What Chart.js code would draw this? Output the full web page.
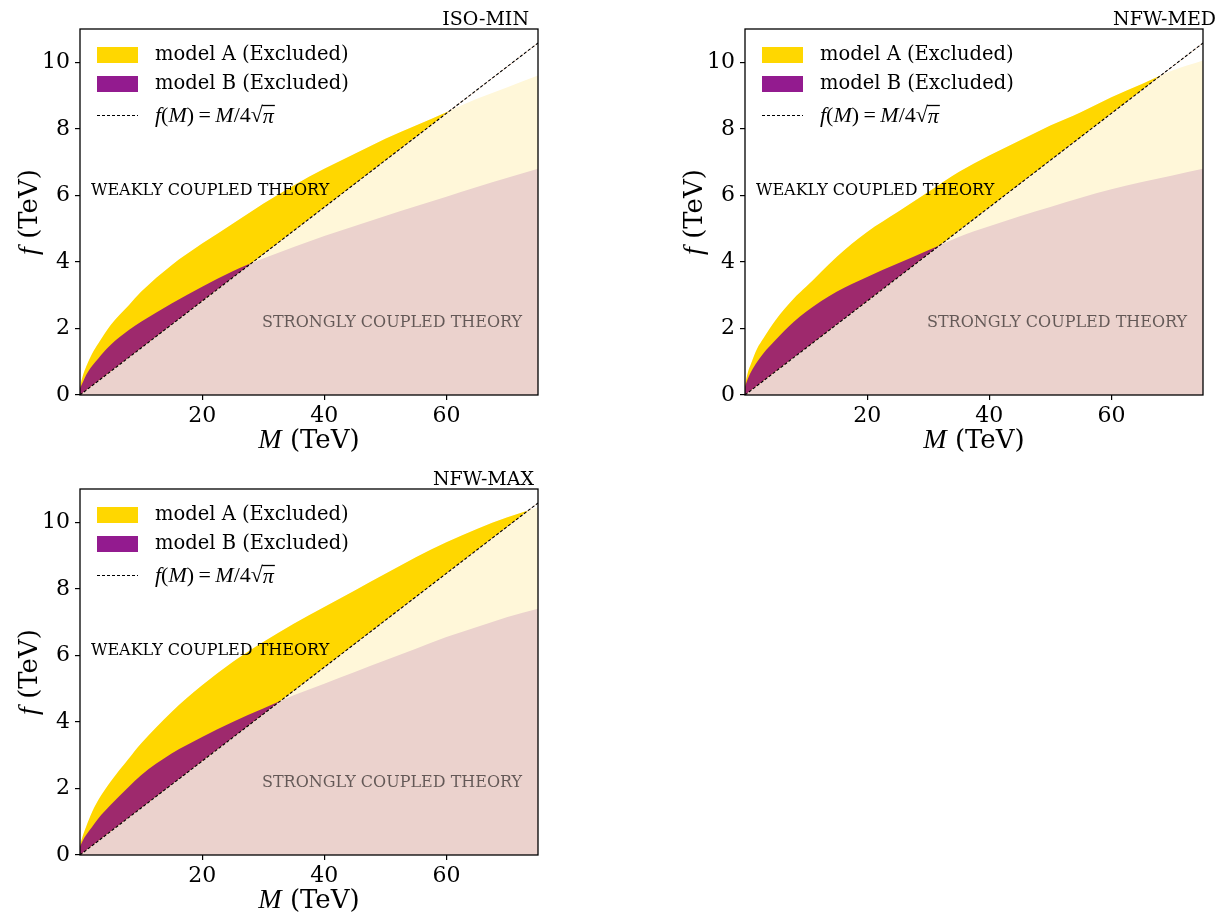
<!DOCTYPE html>
<html lang="en">
<head>
<meta charset="UTF-8">
<title>Excluded regions</title>
<script src="https://cdn.jsdelivr.net/npm/chart.js"></script>
<style>
    body { margin: 0; background: #fff; }
    .page { position: relative; width: 1215px; height: 917px; overflow: hidden; }
    .page canvas { position: absolute; }
</style>
</head>
<body>
<div class="page">
    <canvas id="isoMin" width="550" height="460" style="left:0;top:0"></canvas>
    <canvas id="nfwMed" width="550" height="460" style="left:665px;top:0"></canvas>
    <canvas id="nfwMax" width="550" height="460" style="left:0;top:460px"></canvas>
</div>
<script>
// M (TeV) grid the curves were read at
const massGrid = [0, 0.5, 1, 2, 3, 5, 8, 10, 15, 20, 25, 30, 35, 40, 45, 50, 55, 60, 65, 70, 75];

// f (TeV) bounds, model A and model B, per halo profile
const isoMinA = [0.25, 0.6, 0.85, 1.25, 1.55, 2.1, 2.7, 3.1, 3.9, 4.55, 5.15, 5.75, 6.3, 6.8, 7.25, 7.7, 8.1, 8.5, 8.9, 9.25, 9.6];
const isoMinB = [0.2, 0.4, 0.6, 0.88, 1.1, 1.5, 1.95, 2.2, 2.75, 3.25, 3.72, 4.1, 4.45, 4.78, 5.08, 5.38, 5.67, 5.96, 6.25, 6.53, 6.8];
const nfwMedA = [0.3, 0.7, 0.95, 1.4, 1.7, 2.25, 2.9, 3.25, 4.15, 4.9, 5.5, 6.1, 6.7, 7.2, 7.65, 8.1, 8.5, 8.95, 9.35, 9.75, 10.05];
const nfwMedB = [0.25, 0.5, 0.7, 1.0, 1.25, 1.65, 2.2, 2.5, 3.1, 3.55, 3.95, 4.35, 4.75, 5.07, 5.37, 5.65, 5.93, 6.18, 6.4, 6.6, 6.8];
const nfwMaxA = [0.3, 0.6, 0.85, 1.3, 1.65, 2.2, 2.9, 3.35, 4.3, 5.1, 5.8, 6.4, 6.95, 7.45, 7.95, 8.45, 8.95, 9.4, 9.8, 10.15, 10.45];
const nfwMaxB = [0.25, 0.45, 0.6, 0.85, 1.1, 1.5, 2.05, 2.4, 3.05, 3.55, 4.0, 4.4, 4.8, 5.15, 5.5, 5.85, 6.2, 6.55, 6.85, 7.15, 7.4];

// f(M) = M/4sqrt(pi), end points
const boundM = [0, 75];
const boundF = [0, 10.58];

const xTicks = [20, 40, 60];
const yTicks = [0, 2, 4, 6, 8, 10];

const GOLD = '#ffd700';
const PURPLE = 'rgb(158,41,109)';
const PURPLE_KEY = 'rgb(147,27,143)';
const LIGHT_GOLD = '#fff7d9';
const PINK = '#ebd2cd';
const SERIF = '"DejaVu Serif", serif';
const MATH = '"Liberation Serif", "DejaVu Serif", serif';

function pts(xs, ys) {
    return xs.map((m, i) => ({ x: m, y: ys[i] }));
}

// draws pieces of text with different fonts one after another
function drawRun(ctx, parts, x, y) {
    let cx = x;
    parts.forEach(p => {
        ctx.font = p.font;
        ctx.fillText(p.text, cx, y);
        cx += ctx.measureText(p.text).width;
    });
    return cx;
}
function runWidth(ctx, parts) {
    let w = 0;
    parts.forEach(p => { ctx.font = p.font; w += ctx.measureText(p.text).width; });
    return w;
}

const annotate = {
    id: 'annotate',
    afterDraw(chart, args, opts) {
        const { ctx, chartArea: a, scales: { x, y } } = chart;
        ctx.save();

        // region labels
        ctx.textBaseline = 'middle';
        ctx.textAlign = 'left';
        ctx.font = '16px ' + SERIF;
        ctx.fillStyle = '#000';
        ctx.fillText('WEAKLY COUPLED THEORY', x.getPixelForValue(1.8), y.getPixelForValue(6.15));
        ctx.fillStyle = 'rgba(0,0,0,0.58)';
        ctx.fillText('STRONGLY COUPLED THEORY', x.getPixelForValue(29.8), y.getPixelForValue(2.16));

        // frame
        ctx.strokeStyle = '#000';
        ctx.lineWidth = 1.3;
        ctx.strokeRect(a.left, a.top, a.right - a.left, a.bottom - a.top);

        // legend
        const lx = a.left + 17;
        ctx.fillStyle = GOLD;
        ctx.fillRect(lx, a.top + 18, 41, 16);
        ctx.fillStyle = PURPLE_KEY;
        ctx.fillRect(lx, a.top + 47, 41, 16);
        ctx.strokeStyle = '#000';
        ctx.lineWidth = 1;
        ctx.setLineDash([3, 2]);
        ctx.beginPath();
        ctx.moveTo(lx, a.top + 86.5);
        ctx.lineTo(lx + 41, a.top + 86.5);
        ctx.stroke();
        ctx.setLineDash([]);
        ctx.fillStyle = '#000';
        ctx.font = '19.5px ' + SERIF;
        ctx.fillText('model A (Excluded)', lx + 58, a.top + 26);
        ctx.fillText('model B (Excluded)', lx + 58, a.top + 55);
        const it = 'italic 22px ' + MATH, rm = '22px ' + MATH;
        const end = drawRun(ctx, [
            { text: 'f', font: it }, { text: '(', font: rm }, { text: 'M', font: it },
            { text: ')\u2009=\u2009', font: rm }, { text: 'M', font: it }, { text: '/4\u221A', font: rm }
        ], lx + 58, a.top + 87);
        ctx.font = it;
        const piW = ctx.measureText('\u03C0').width;
        ctx.fillText('\u03C0', end, a.top + 88);
        ctx.lineWidth = 1.3;
        ctx.beginPath();
        ctx.moveTo(end - 1, a.top + 76.5);
        ctx.lineTo(end + piW + 1, a.top + 76.5);
        ctx.stroke();

        // panel title
        ctx.textAlign = 'right';
        ctx.textBaseline = 'alphabetic';
        ctx.font = '19px ' + SERIF;
        ctx.fillText(opts.title, opts.titleRight, 25);

        // axis titles
        ctx.textAlign = 'left';
        ctx.textBaseline = 'middle';
        const xt = [{ text: 'M', font: 'italic 28px ' + MATH }, { text: ' (TeV)', font: '26px ' + SERIF }];
        drawRun(ctx, xt, (a.left + a.right) / 2 - runWidth(ctx, xt) / 2, a.bottom + 46);
        const yt = [{ text: 'f', font: 'italic 28px ' + MATH }, { text: ' (TeV)', font: '26px ' + SERIF }];
        ctx.translate(30, (a.top + a.bottom) / 2);
        ctx.rotate(-Math.PI / 2);
        drawRun(ctx, yt, -runWidth(ctx, yt) / 2, 0);
        ctx.restore();
    }
};

function makePanel(id, title, titleRight, aVals, bVals) {
    const curveA = pts(massGrid, aVals);
    const curveB = pts(massGrid, bVals);
    const line = { borderWidth: 0, pointRadius: 0, cubicInterpolationMode: 'monotone' };
    new Chart(document.getElementById(id), {
        type: 'line',
        data: {
            datasets: [
                Object.assign({ data: curveA, fill: 'origin', backgroundColor: LIGHT_GOLD, order: 5 }, line),
                Object.assign({ data: curveB, fill: 'origin', backgroundColor: PINK, order: 4 }, line),
                Object.assign({ data: curveA, fill: { target: 4, above: GOLD, below: 'rgba(0,0,0,0)' }, order: 3 }, line),
                Object.assign({ data: curveB, fill: { target: 4, above: PURPLE, below: 'rgba(0,0,0,0)' }, order: 2 }, line),
                {
                    data: pts(boundM, boundF), fill: false, borderColor: '#000', borderWidth: 1.1,
                    borderDash: [3, 2], pointRadius: 0, order: 1
                }
            ]
        },
        options: {
            responsive: false,
            animation: false,
            layout: { padding: { top: 29, right: 12, left: 0, bottom: 0 } },
            plugins: {
                legend: { display: false },
                tooltip: { enabled: false },
                annotate: { title, titleRight }
            },
            scales: {
                x: {
                    type: 'linear', min: 0, max: 75,
                    afterBuildTicks: s => { s.ticks = xTicks.map(v => ({ value: v })); },
                    afterFit: s => { s.height = 65; },
                    border: { display: false },
                    grid: { drawOnChartArea: false, tickLength: 5, color: '#000', lineWidth: 1.2 },
                    ticks: { color: '#000', padding: 3, maxRotation: 0, font: { family: SERIF, size: 22 } }
                },
                y: {
                    type: 'linear', min: 0, max: 11,
                    afterBuildTicks: s => { s.ticks = yTicks.map(v => ({ value: v })); },
                    afterFit: s => { s.width = 80; },
                    border: { display: false },
                    grid: { drawOnChartArea: false, tickLength: 5, color: '#000', lineWidth: 1.2 },
                    ticks: { color: '#000', padding: 5, font: { family: SERIF, size: 22 } }
                }
            }
        },
        plugins: [annotate]
    });
}

makePanel('isoMin', 'ISO-MIN', 529, isoMinA, isoMinB);
makePanel('nfwMed', 'NFW-MED', 551, nfwMedA, nfwMedB);
makePanel('nfwMax', 'NFW-MAX', 534, nfwMaxA, nfwMaxB);
</script>
</body>
</html>
